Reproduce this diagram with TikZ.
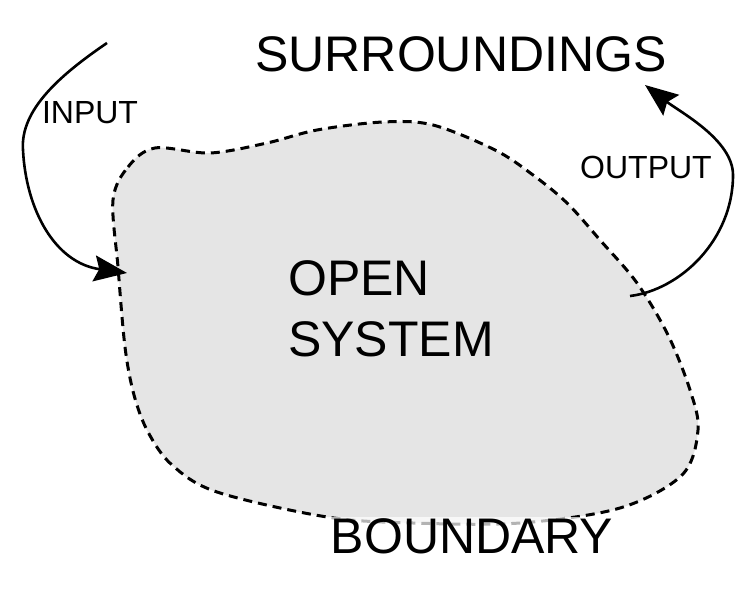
\documentclass[tikz,border=0pt]{standalone}
\usepackage{fontspec}
\setmainfont{Liberation Sans}
\usepackage{tikz}
\usetikzlibrary{arrows.meta,positioning}
\tikzset{
    region/.style={
        fill=black!10,
        draw,
        line width=3pt,
        dash pattern=on 9pt off 6pt
    },
    flow/.style={line width=2.6pt, -{Stealth[length=33pt,width=26pt,inset=5pt]}},
    big/.style={inner sep=0pt, font=\fontsize{50}{61}\selectfont},
    small/.style={inner sep=0pt, font=\fontsize{32}{38}\selectfont}
}

\begin{document}
\begin{tikzpicture}[x=1pt,y=-1pt]
    \useasboundingbox (0,0) rectangle (754,599);

    % the open system
    \draw[region] plot[smooth cycle, tension=0.55] coordinates {
        (113,200) (128,167) (155,148) (210,153) (267,143) (317,130)
        (383,122) (433,125) (495,150) (533,175) (567,203) (600,240)
        (637,283) (668,335) (690,390) (698,430) (682,475) (620,508)
        (520,523) (413,523) (327,517) (217,492) (172,465) (148,432)
        (134,395) (125,347) (118,267)};

    \node[big, align=left] (sys) at (391,309) {OPEN\\SYSTEM};
    \node[big] (sur) at (461,54) {SURROUNDINGS};
    \node[big, inner sep=1.5pt, fill=white, fill opacity=0.7, text opacity=1] (bnd) at (472,536) {BOUNDARY};
    \node[small] (inp) at (90,113) {INPUT};
    \node[small] (outp) at (646,167) {OUTPUT};

    \coordinate (inA) at (107,43);
    \coordinate (inB) at (127,273);
    \coordinate (outA) at (630,296);
    \coordinate (outB) at (645,85);

    \draw[flow] (inA) .. controls (60,75) and (20,110) .. (23,150)
        .. controls (26,210) and (55,263) .. (inB);
    \draw[flow] (outA) .. controls (680,290) and (733,240) .. (733,175)
        .. controls (733,140) and (680,112) .. (outB);
\end{tikzpicture}
\end{document}
